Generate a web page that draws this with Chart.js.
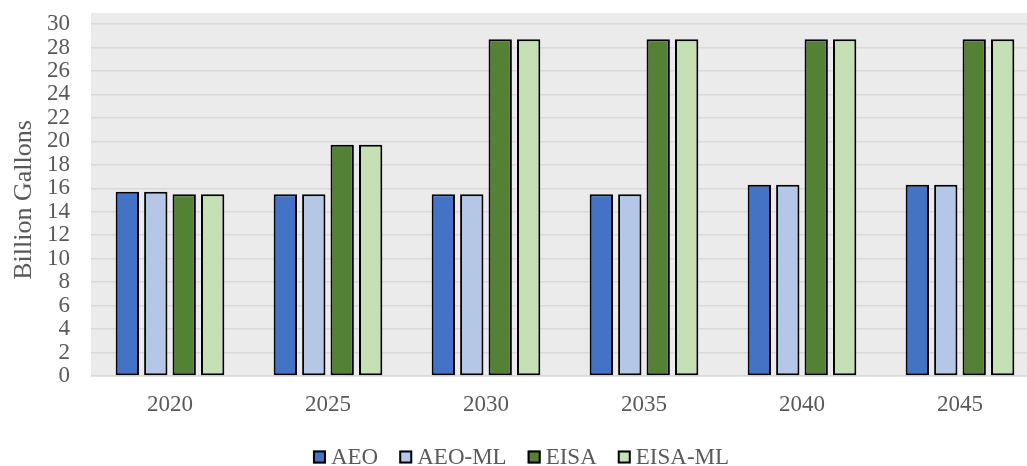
<!DOCTYPE html>
<html>
<head>
<meta charset="utf-8">
<script src="https://cdn.jsdelivr.net/npm/chart.js@4.4.1/dist/chart.umd.min.js"></script>
<style>
  html, body { margin: 0; padding: 0; background: #ffffff; overflow: hidden; width: 1027px; height: 466px; }
  #wrap { position: absolute; left: 0; top: 0; width: 1041px; height: 466px; }
</style>
</head>
<body>
<div id="wrap"><canvas id="c" width="1041" height="466"></canvas></div>
<script>
// Projected volumes, billion gallons
const years = ['2020', '2025', '2030', '2035', '2040', '2045'];
const aeo = [15.7, 15.5, 15.5, 15.5, 16.3, 16.3];
const aeoMl = [15.7, 15.5, 15.5, 15.5, 16.3, 16.3];
const eisa = [15.5, 19.7, 28.7, 28.7, 28.7, 28.7];
const eisaMl = [15.5, 19.7, 28.7, 28.7, 28.7, 28.7];
const yTicks = [0, 2, 4, 6, 8, 10, 12, 14, 16, 18, 20, 22, 24, 26, 28, 30];

const seriesNames = ['AEO', 'AEO-ML', 'EISA', 'EISA-ML'];
const seriesColors = ['#4472c4', '#b4c7e7', '#548235', '#c5e0b4'];
const seriesValues = [aeo, aeoMl, eisa, eisaMl];

const FONT = "'Liberation Serif', 'Times New Roman', serif";
const TEXT = '#595959';

// Gray plot panel behind the grid
const panelBg = {
  id: 'panelBg',
  beforeDraw(chart) {
    const { ctx, chartArea: a } = chart;
    ctx.save();
    ctx.fillStyle = '#ebebeb';
    ctx.fillRect(a.left, a.top - 11, chart.width - a.left, a.bottom - a.top + 12);
    ctx.restore();
  }
};

// Legend row under the axis: boxed swatch followed by the series name
const bottomLegend = {
  id: 'bottomLegend',
  afterDraw(chart) {
    const ctx = chart.ctx;
    const box = 13, gap = 5, spacing = 21, cy = 457, centerX = 521;
    ctx.save();
    ctx.font = '23px ' + FONT;
    const widths = chart.data.datasets.map(d => box + gap + ctx.measureText(d.label).width);
    const total = widths.reduce((s, w) => s + w, 0) + spacing * (widths.length - 1);
    let x = centerX - total / 2;
    chart.data.datasets.forEach((d, i) => {
      ctx.fillStyle = d.backgroundColor;
      ctx.fillRect(x, cy - box / 2, box, box);
      ctx.lineWidth = 2;
      ctx.strokeStyle = '#000000';
      ctx.strokeRect(x + 1, cy - box / 2 + 1, box - 2, box - 2);
      ctx.fillStyle = TEXT;
      ctx.textBaseline = 'middle';
      ctx.textAlign = 'left';
      ctx.fillText(d.label, x + box + gap, cy + 1);
      x += widths[i] + spacing;
    });
    ctx.restore();
  }
};

new Chart(document.getElementById('c'), {
  type: 'bar',
  data: {
    labels: years,
    datasets: seriesNames.map((name, i) => ({
      label: name,
      data: seriesValues[i],
      backgroundColor: seriesColors[i],
      borderColor: '#000000',
      borderWidth: 2,
      borderSkipped: false,
      categoryPercentage: 0.72,
      barPercentage: 0.82
    }))
  },
  options: {
    responsive: false,
    animation: false,
    layout: { padding: { top: 24, right: 2, bottom: 0, left: 0 } },
    plugins: {
      legend: { display: false },
      tooltip: { enabled: false }
    },
    scales: {
      x: {
        grid: { display: false, drawTicks: false },
        border: { display: false },
        ticks: { color: TEXT, font: { family: FONT, size: 23 }, padding: 15, maxRotation: 0 },
        afterFit(scale) { scale.height = 90; scale.paddingLeft = 0; scale.paddingRight = 0; }
      },
      y: {
        min: 0,
        max: 30,
        afterBuildTicks(scale) { scale.ticks = yTicks.map(v => ({ value: v })); },
        grid: { color: '#d9d9d9', lineWidth: 1.5, drawTicks: false },
        border: { display: false },
        ticks: { color: TEXT, font: { family: FONT, size: 23 }, padding: 21, autoSkip: false },
        title: {
          display: true,
          text: 'Billion Gallons',
          color: TEXT,
          font: { family: FONT, size: 26 },
          padding: { top: 9, bottom: 0 }
        },
        afterFit(scale) { scale.width = 91; scale.paddingTop = 0; scale.paddingBottom = 0; }
      }
    }
  },
  plugins: [panelBg, bottomLegend]
});
</script>
</body>
</html>
